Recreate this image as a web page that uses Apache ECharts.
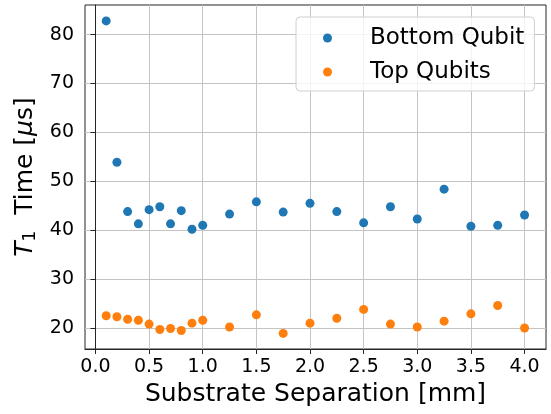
<!DOCTYPE html>
<html>
<head>
<meta charset="utf-8">
<script src="https://cdn.jsdelivr.net/npm/echarts@6/dist/echarts.min.js"></script>
<style>
  html, body { margin: 0; padding: 0; background: #fff; }
  #chart { width: 551px; height: 414px; }
</style>
</head>
<body>
<div id="chart"></div>
<script>
// Substrate separation in mm
const separation = [0.1, 0.2, 0.3, 0.4, 0.5, 0.6, 0.7, 0.8, 0.9, 1.0,
                    1.25, 1.5, 1.75, 2.0, 2.25, 2.5, 2.75, 3.0, 3.25, 3.5, 3.75, 4.0];
// T1 times in microseconds
const bottomQubit = [82.8, 53.9, 43.8, 41.3, 44.2, 44.8, 41.3, 44.0, 40.2, 41.0,
                     43.3, 45.8, 43.7, 45.5, 43.8, 41.5, 44.8, 42.3, 48.4, 40.8, 41.0, 43.1];
const topQubits = [22.5, 22.3, 21.8, 21.6, 20.8, 19.7, 19.9, 19.5, 21.0, 21.6,
                   20.2, 22.7, 18.9, 21.0, 22.0, 23.8, 20.8, 20.2, 21.4, 22.9, 24.6, 20.0];
const xTicks = [0.0, 0.5, 1.0, 1.5, 2.0, 2.5, 3.0, 3.5, 4.0];
const yTicks = [20, 30, 40, 50, 60, 70, 80];

const FONT = 'DejaVu Sans';
const pairs = (xs, ys) => xs.map((x, i) => [x, ys[i]]);

const chart = echarts.init(document.getElementById('chart'), null, { renderer: 'canvas' });

chart.setOption({
  animation: false,
  backgroundColor: '#ffffff',
  textStyle: { fontFamily: FONT },
  grid: {
    left: 85, top: 5, right: 5, bottom: 65,
    outerBoundsMode: 'none',
    containLabel: false,
    show: true, borderColor: '#262626', borderWidth: 1, backgroundColor: 'transparent'
  },
  legend: {
    orient: 'vertical',
    left: 296, top: 17,
    padding: [9, 10, 7, 27],
    itemGap: 10,
    itemWidth: 9, itemHeight: 9,
    icon: 'circle',
    backgroundColor: 'rgba(255,255,255,0.8)',
    borderColor: '#d0d0d0', borderWidth: 1, borderRadius: 4,
    textStyle: {
      fontFamily: FONT, fontSize: 23, color: '#000', lineHeight: 24,
      padding: [0, 0, 0, 33]
    },
    data: ['Bottom Qubit', 'Top Qubits']
  },
  xAxis: {
    type: 'value',
    min: -0.0975, max: 4.2,
    name: 'Substrate Separation [mm]',
    nameLocation: 'middle',
    nameGap: 32,
    nameTextStyle: { fontFamily: FONT, fontSize: 25, color: '#000' },
    axisLine: { show: true, lineStyle: { color: '#262626', width: 1 } },
    axisTick: { show: true, length: 5, inside: false, customValues: xTicks,
                lineStyle: { color: '#262626', width: 1 } },
    axisLabel: { customValues: xTicks, margin: 9, fontFamily: FONT, fontSize: 19, color: '#000',
                 formatter: v => v.toFixed(1) },
    splitLine: { show: true, lineStyle: { color: '#c4c4c4', width: 1 } }
  },
  yAxis: {
    type: 'value',
    min: 15.71, max: 86.05,
    name: '{i|T}{sub|1}  Time [{i|μ}s]',
    nameLocation: 'middle',
    nameRotate: 90,
    nameGap: 46,
    nameTextStyle: {
      fontFamily: FONT, fontSize: 25, color: '#000',
      rich: {
        i: { fontFamily: FONT, fontStyle: 'italic', fontSize: 25, color: '#000' },
        sub: { fontFamily: FONT, fontSize: 17, color: '#000', padding: [10, 0, 0, 0] }
      }
    },
    axisLine: { show: true, lineStyle: { color: '#262626', width: 1 } },
    axisTick: { show: true, length: 5, inside: false, customValues: yTicks,
                lineStyle: { color: '#262626', width: 1 } },
    axisLabel: { customValues: yTicks, margin: 11, fontFamily: FONT, fontSize: 19, color: '#000' },
    splitLine: { show: true, lineStyle: { color: '#c4c4c4', width: 1 } }
  },
  series: [
    {
      name: 'Bottom Qubit',
      type: 'scatter',
      symbol: 'circle',
      symbolSize: 9,
      itemStyle: { color: '#1f77b4', opacity: 1 },
      data: pairs(separation, bottomQubit)
    },
    {
      name: 'Top Qubits',
      type: 'scatter',
      symbol: 'circle',
      symbolSize: 9,
      itemStyle: { color: '#ff7f0e', opacity: 1 },
      data: pairs(separation, topQubits)
    }
  ]
});
</script>
</body>
</html>
